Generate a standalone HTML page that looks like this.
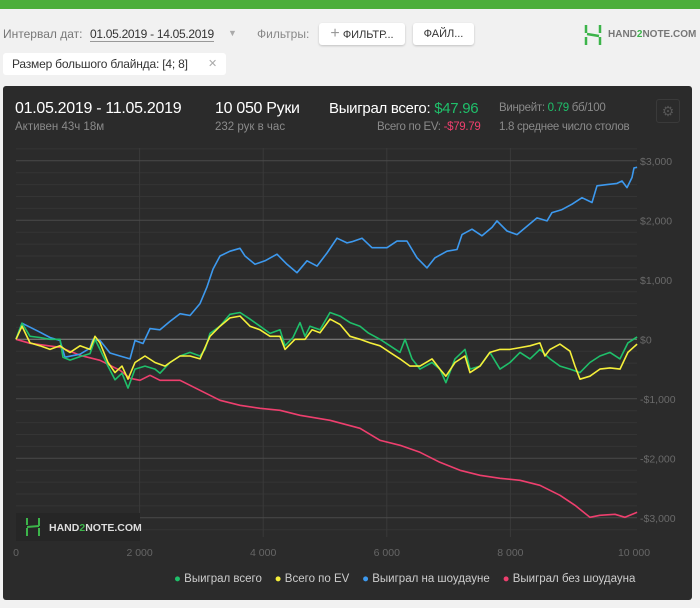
<!DOCTYPE html>
<html><head><meta charset="utf-8">
<style>
body{margin:0;width:700px;height:608px;background:#f1f1f1;font-family:"Liberation Sans",sans-serif;position:relative;overflow:hidden}
.abs{position:absolute;white-space:nowrap}
.topbar{left:0;top:0;width:700px;height:9px;background:#4cae3a}
.btn{background:#fff;border-radius:3px;box-shadow:0 1px 2px rgba(0,0,0,.2);font-size:11px;color:#333;height:22px;line-height:22px;text-align:center}
.panel{left:3px;top:86px;width:689px;height:514px;background:#2b2b2b;border-radius:3px}
.w{color:#fff}.g{color:#8a8a8a}
</style></head><body>
<div class="abs topbar"></div>
<div class="abs" style="left:3px;top:27px;font-size:12px;color:#777">Интервал дат:</div>
<div class="abs" style="left:90px;top:27px;font-size:12px;color:#333;border-bottom:1px solid #999;letter-spacing:-0.3px">01.05.2019 - 14.05.2019</div>
<div class="abs" style="left:228px;top:28px;font-size:9px;color:#aaa">▼</div>
<div class="abs" style="left:257px;top:27px;font-size:12px;color:#888">Фильтры:</div>
<div class="abs btn" style="left:319px;top:23px;width:86px"><span style="color:#999;font-size:16px">+</span> ФИЛЬТР...</div>
<div class="abs btn" style="left:413px;top:23px;width:61px">ФАЙЛ...</div>
<div class="abs" style="left:584px;top:25px;width:18px;height:20px">
<svg width="18" height="20"><path d="M2 0v8M16 12v8M2 12v8M16 0v8" stroke="#3cb44a" stroke-width="2.5" fill="none"/><path d="M3 9L15 11" stroke="#3cb44a" stroke-width="2.5"/></svg></div>
<div class="abs" style="left:608px;top:29px;font-size:10px;font-weight:bold;color:#777">HAND<span style="color:#3cb44a">2</span>NOTE.COM</div>
<div class="abs btn" style="left:3px;top:53px;width:223px;text-align:left;box-shadow:none"><span style="padding-left:9px;font-size:12px;letter-spacing:-0.2px">Размер большого блайнда: [4; 8]</span><span style="position:absolute;left:205px;color:#aaa">✕</span></div>

<div class="abs panel"></div>
<div class="abs w" style="left:15px;top:100px;font-size:16px;letter-spacing:-0.3px">01.05.2019 - 11.05.2019</div>
<div class="abs g" style="left:15px;top:121px;font-size:11.5px">Активен 43ч 18м</div>
<div class="abs w" style="left:215px;top:100px;font-size:16px;letter-spacing:-0.3px">10 050 Руки</div>
<div class="abs g" style="left:215px;top:121px;font-size:11.5px">232 рук в час</div>
<div class="abs w" style="left:329px;top:100px;font-size:15px;letter-spacing:-0.3px">Выиграл всего: <span style="color:#1fbf6a">$47.96</span></div>
<div class="abs g" style="left:377px;top:121px;font-size:11.5px;letter-spacing:-0.3px">Всего по EV: <span style="color:#ee3f6e">-$79.79</span></div>
<div class="abs g" style="left:499px;top:102px;font-size:11.5px;letter-spacing:-0.3px">Винрейт: <span style="color:#1fbf6a">0.79</span> бб/100</div>
<div class="abs g" style="left:499px;top:121px;font-size:11.5px;width:143px;overflow:hidden;letter-spacing:-0.3px">1.8 среднее число столов</div>
<div class="abs" style="left:656px;top:99px;width:22px;height:22px;border:1px solid #3a3a3a;border-radius:3px;color:#555;font-size:14px;text-align:center;line-height:22px">⚙</div>

<svg class="abs" style="left:0;top:0" width="700" height="608" id="chart"></svg>

<div class="abs" style="left:174px;top:573px;font-size:11.5px;color:#ccc">
<span><span style="color:#1fbf6a">●</span> Выиграл всего</span>&nbsp;&nbsp;&nbsp;
<span><span style="color:#f5ef3a">●</span> Всего по EV</span>&nbsp;&nbsp;&nbsp;
<span><span style="color:#3d99ee">●</span> Выиграл на шоудауне</span>&nbsp;&nbsp;&nbsp;
<span><span style="color:#ee3f6e">●</span> Выиграл без шоудауна</span>
</div>

<script>
const xTicks=[0,2000,4000,6000,8000,10000];
const xTickLabels=["0","2 000","4 000","6 000","8 000","10 000"];
const yTicks=[3000,2000,1000,0,-1000,-2000,-3000];
const yTickLabels=["$3,000","$2,000","$1,000","$0","-$1,000","-$2,000","-$3,000"];
const blueHands=[0,97,388,550,712,793,1036,1197,1246,1359,1521,1683,1845,1926,2055,2168,2330,2492,2654,2816,2977,3091,3188,3301,3463,3625,3706,3867,4029,4223,4385,4547,4709,4870,5032,5194,5356,5437,5599,5761,6003,6165,6327,6489,6651,6780,6974,7136,7217,7379,7540,7702,7783,7945,8107,8269,8431,8592,8673,8835,8997,9159,9320,9401,9563,9725,9806,9887,9968,10000,10050];
const blueValues=[0,270,120,30,-20,-300,-250,-150,0,-20,-230,-280,-330,-20,-70,180,160,300,430,400,600,880,1180,1400,1480,1530,1400,1260,1320,1430,1260,1120,1320,1230,1450,1700,1620,1640,1700,1540,1540,1650,1650,1370,1200,1370,1480,1510,1760,1850,1740,1880,1990,1820,1760,1900,2040,1990,2130,2180,2270,2380,2300,2580,2600,2620,2660,2550,2720,2880,2890];
const greenHands=[0,97,227,388,550,712,760,874,1036,1197,1278,1359,1489,1602,1715,1812,1926,2087,2249,2330,2492,2654,2816,2977,3058,3139,3301,3463,3625,3786,3948,4110,4272,4352,4482,4595,4676,4757,4919,5081,5242,5404,5566,5695,5890,6051,6213,6294,6407,6537,6731,6860,6957,7103,7265,7346,7508,7669,7831,7993,8155,8317,8478,8640,8802,8964,9126,9287,9449,9611,9773,9902,10050];
const greenValues=[0,270,50,30,0,0,-300,-350,-290,-240,0,-170,-450,-680,-570,-820,-500,-450,-500,-570,-390,-280,-220,-280,-170,100,220,420,450,340,220,100,160,-110,30,280,50,220,160,450,390,280,220,110,0,-110,-220,0,-330,-500,-390,-500,-730,-330,-170,-500,-450,-220,-500,-390,-220,-330,-170,-330,-450,-500,-560,-390,-280,-220,-330,-60,40];
const yellowHands=[0,97,227,388,550,712,793,874,1036,1197,1278,1359,1489,1602,1715,1812,1926,2087,2249,2411,2492,2654,2816,2977,3139,3301,3463,3625,3786,3948,4110,4272,4352,4514,4676,4789,4919,5081,5242,5404,5566,5728,5890,6051,6213,6375,6537,6731,6860,6957,7103,7265,7346,7508,7669,7831,7993,8155,8317,8478,8559,8640,8802,8964,9045,9126,9287,9449,9611,9773,9902,10050];
const yellowValues=[0,220,-60,-110,-170,-110,-170,-220,-110,-170,50,-60,-390,-560,-450,-670,-390,-280,-390,-450,-390,-280,-280,-330,50,220,360,390,220,160,50,50,-170,0,0,160,110,340,250,50,0,-60,-110,-220,-330,-450,-450,-330,-500,-620,-390,-280,-560,-450,-220,-170,-170,-140,-110,-60,-280,-170,-80,-200,-450,-670,-620,-500,-480,-500,-220,-80];
const redHands=[0,227,712,1036,1359,1683,1845,2006,2168,2330,2654,2977,3301,3625,3948,4272,4595,5081,5566,5890,6213,6537,6860,7184,7508,7831,8155,8478,8802,9045,9287,9449,9692,9854,10050];
const redValues=[0,-67,-134,-269,-353,-521,-655,-689,-605,-689,-689,-857,-1025,-1109,-1160,-1193,-1277,-1361,-1496,-1697,-1782,-1899,-2067,-2202,-2286,-2336,-2370,-2454,-2622,-2790,-2992,-2958,-2941,-2992,-2908];

const NS='http://www.w3.org/2000/svg';
const svg=document.getElementById('chart');
const X0=16,X1=634,PT=148,PB=537;
function xs(h){return X0+h*(X1-X0)/10000;}
function ys(v){return 339.3-v*0.0595;}
function mk(t,a){const e=document.createElementNS(NS,t);for(const k in a)e.setAttribute(k,a[k]);svg.appendChild(e);return e;}
for(let v=-3200;v<=3200;v+=200){
  if(v%1000===0)continue;
  const y=ys(v);if(y<PT||y>PB)continue;
  const l=mk('line',{x1:X0,x2:X1+3,y1:y,y2:y,stroke:'#353535','stroke-width':1});
  
  
}
xTicks.forEach((t,i)=>{
  const x=xs(t);
  if(i>0&&i<xTicks.length-1){
    const l=mk('line',{x1:x,x2:x,y1:PT,y2:PB,stroke:'#3a3a3a','stroke-width':1});
    
    
  }
  const tx=mk('text',{x:x,y:556,fill:'#666','font-size':10.5,'text-anchor':'middle','font-family':'Liberation Sans, sans-serif'});
  tx.textContent=xTickLabels[i];
  
  
});
yTicks.forEach((t,i)=>{
  const y=ys(t);
  const l=mk('line',{x1:X0,x2:X1+3,y1:y,y2:y,stroke:t===0?'#8a8a8a':'#4a4a4a','stroke-width':1});
  
  
  const tx=mk('text',{x:640,y:y+4,fill:'#6a6a6a','font-size':10.5,'font-family':'Liberation Sans, sans-serif'});
  tx.textContent=yTickLabels[i];
  
  
});
function series(h,v,color,name){
  const d=h.map((hh,i)=>(i?'L':'M')+xs(hh).toFixed(1)+' '+ys(v[i]).toFixed(1)).join(' ');
  const p=mk('path',{d:d,fill:'none',stroke:color,'stroke-width':1.6,'stroke-linejoin':'round'});
  
  
}
series(redHands,redValues,'#ee3f6e','series-non-showdown');
series(blueHands,blueValues,'#3d99ee','series-showdown');
series(greenHands,greenValues,'#1fbf6a','series-total');
series(yellowHands,yellowValues,'#f5ef3a','series-ev');
const wm=mk('rect',{x:16,y:513,width:124,height:28,fill:'#262626'});


const wl=mk('path',{d:'M27 518v7 M27 527 L39 526 M39 518v8 M39 528v8 M27 528v8',stroke:'#3cb44a','stroke-width':2,fill:'none'});


const wt=mk('text',{x:49,y:531,fill:'#ddd','font-size':10.5,'font-weight':'bold','font-family':'Liberation Sans, sans-serif'});
wt.innerHTML='HAND<tspan fill="#3cb44a">2</tspan>NOTE.COM';


</script>
</body></html>
